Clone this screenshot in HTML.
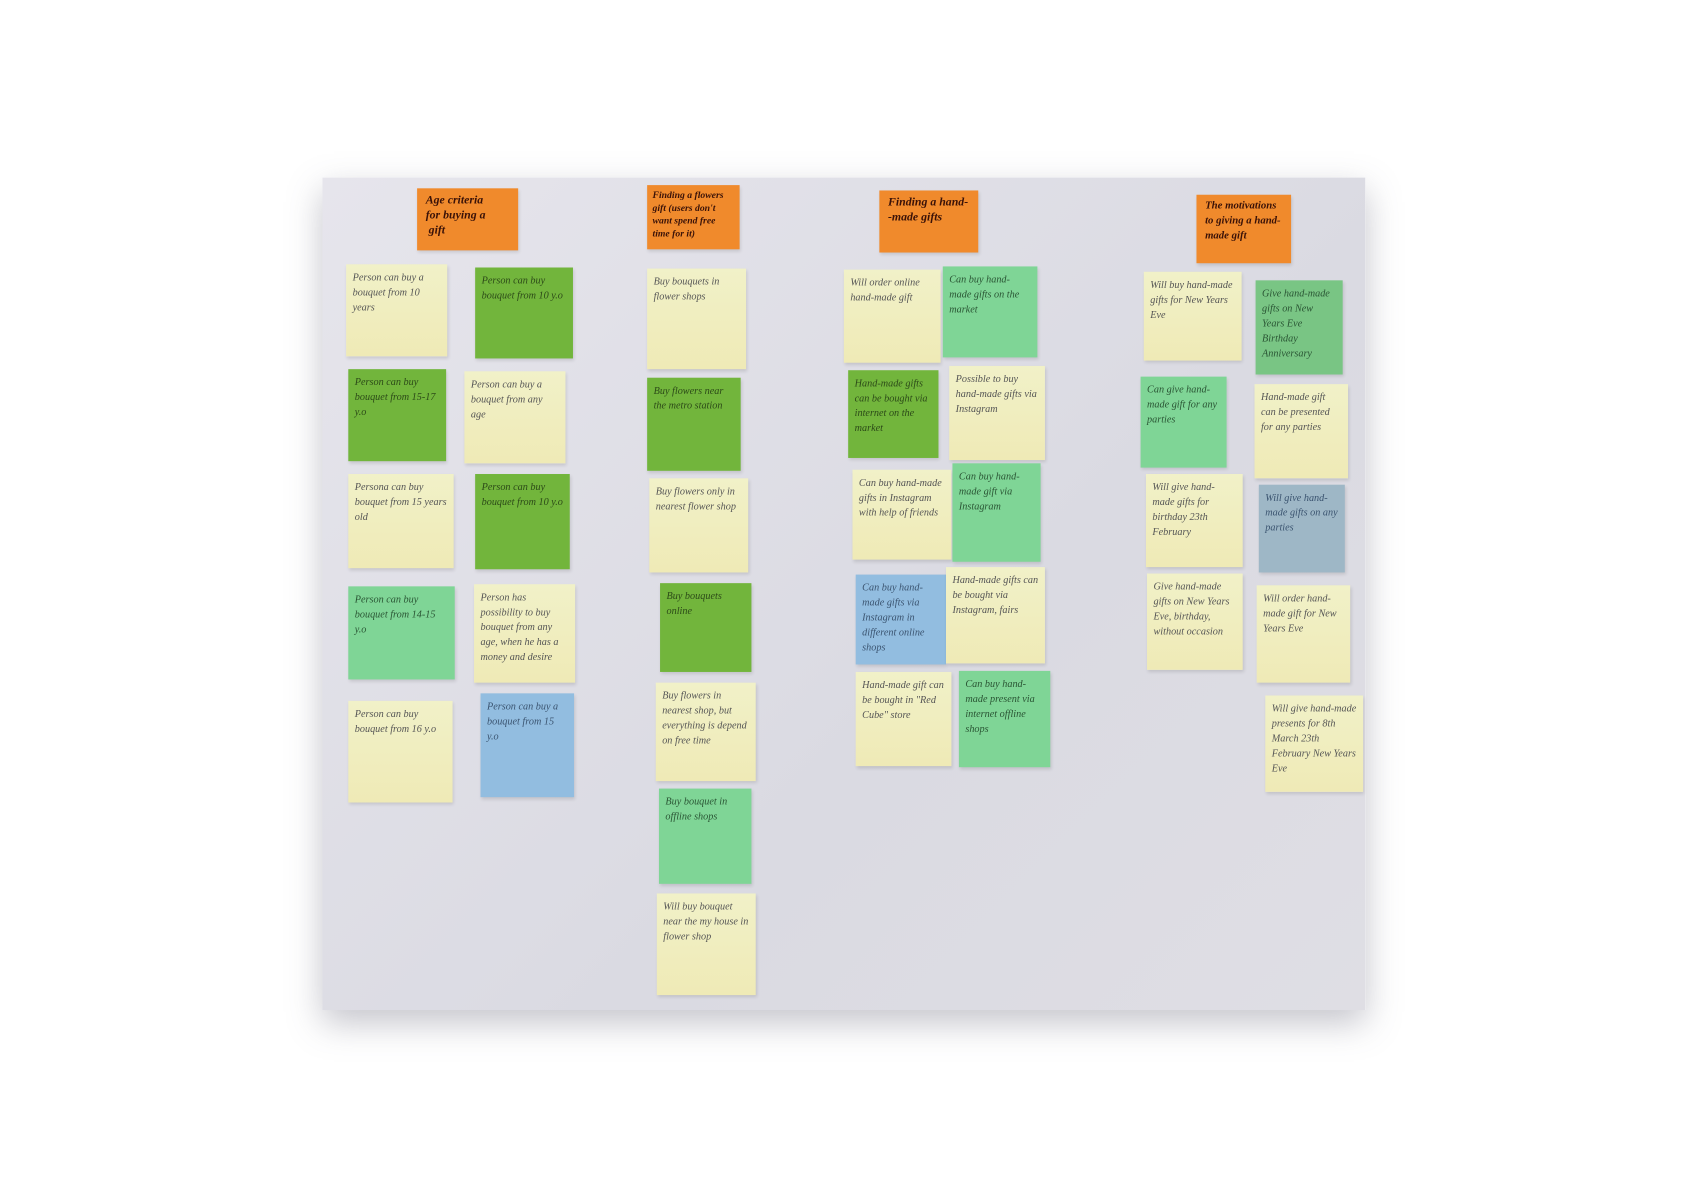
<!DOCTYPE html>
<html><head><meta charset="utf-8"><style>
html,body{margin:0;padding:0;background:#fff;width:1684px;height:1190px;overflow:hidden}
#w{position:absolute;left:0;top:0;width:1567px;height:1112px;transform:scale(1.075,1.07);transform-origin:0 0}
#board{position:absolute;left:300px;top:166px;width:970px;height:778px;background:linear-gradient(135deg,#e6e5ec,#dadae2 60%,#dfdee4);box-shadow:0 12px 30px rgba(90,90,110,.35)}
.n{position:absolute;box-sizing:border-box;padding:6px 6px;font-family:"Liberation Serif",serif;font-style:italic;font-size:9.5px;line-height:14px;color:#555;box-shadow:1px 2px 3px rgba(0,0,0,.12)}
.y{background:linear-gradient(180deg,#f1f1c8,#efeab6)}
.g{background:#72b53c;color:#2c4a18}
.m{background:#7fd596;color:#2a5534}
.b{background:#92bde0;color:#3b5470}
.s{background:#9eb7c6;color:#3b5470}
.o{background:#f08a2c;color:#3a1208;font-weight:bold;font-size:11px;line-height:14px;padding:4px 8px}
</style></head><body><div id="w">
<div id="board"></div>
<div class="n o" style="left:388px;top:176px;width:94px;height:58px">Age criteria<br>for buying a<br>&nbsp;gift</div>
<div class="n o" style="left:602px;top:173px;width:86px;height:60px;font-size:9px;line-height:12px;padding:3px 5px">Finding a flowers gift (users don't want spend free time for it)</div>
<div class="n o" style="left:818px;top:178px;width:92px;height:58px">Finding a hand-<br>-made gifts</div>
<div class="n o" style="left:1113px;top:182px;width:88px;height:64px;font-size:10px">The motivations to giving a hand-made gift</div>

<div class="n y" style="left:322px;top:247px;width:94px;height:86px">Person can buy a bouquet from 10 years</div>
<div class="n g" style="left:324px;top:345px;width:91px;height:86px">Person can buy bouquet from 15-17 y.o</div>
<div class="n y" style="left:324px;top:443px;width:98px;height:88px">Persona can buy bouquet from 15 years old</div>
<div class="n m" style="left:324px;top:548px;width:99px;height:87px">Person can buy bouquet from 14-15 y.o</div>
<div class="n y" style="left:324px;top:655px;width:97px;height:95px">Person can buy bouquet from 16 y.o</div>

<div class="n g" style="left:442px;top:250px;width:91px;height:85px">Person can buy bouquet from 10 y.o</div>
<div class="n y" style="left:432px;top:347px;width:94px;height:86px">Person can buy a bouquet from any age</div>
<div class="n g" style="left:442px;top:443px;width:88px;height:89px">Person can buy bouquet from 10 y.o</div>
<div class="n y" style="left:441px;top:546px;width:94px;height:92px">Person has possibility to buy bouquet from any age, when he has a money and desire</div>
<div class="n b" style="left:447px;top:648px;width:87px;height:97px">Person can buy a bouquet from 15 y.o</div>

<div class="n y" style="left:602px;top:251px;width:92px;height:94px">Buy bouquets in flower shops</div>
<div class="n g" style="left:602px;top:353px;width:87px;height:87px">Buy flowers near the metro station</div>
<div class="n y" style="left:604px;top:447px;width:92px;height:88px">Buy flowers only in nearest flower shop</div>
<div class="n g" style="left:614px;top:545px;width:85px;height:83px">Buy bouquets online</div>
<div class="n y" style="left:610px;top:638px;width:93px;height:92px">Buy flowers in nearest shop, but everything is depend on free time</div>
<div class="n m" style="left:613px;top:737px;width:86px;height:89px">Buy bouquet in offline shops</div>
<div class="n y" style="left:611px;top:835px;width:92px;height:95px">Will buy bouquet near the my house in flower shop</div>

<div class="n y" style="left:785px;top:252px;width:90px;height:87px">Will order online hand-made gift</div>
<div class="n g" style="left:789px;top:346px;width:84px;height:82px">Hand-made gifts can be bought via internet on the market</div>
<div class="n y" style="left:793px;top:439px;width:92px;height:84px">Can buy hand-made gifts in Instagram with help of friends</div>
<div class="n b" style="left:796px;top:537px;width:84px;height:84px">Can buy hand-made gifts via Instagram in different online shops</div>
<div class="n y" style="left:796px;top:628px;width:89px;height:88px">Hand-made gift can be bought in "Red Cube" store</div>

<div class="n m" style="left:877px;top:249px;width:88px;height:85px">Can buy hand-made gifts on the market</div>
<div class="n y" style="left:883px;top:342px;width:89px;height:88px">Possible to buy hand-made gifts via Instagram</div>
<div class="n m" style="left:886px;top:433px;width:82px;height:92px">Can buy hand-made gift via Instagram</div>
<div class="n y" style="left:880px;top:530px;width:92px;height:90px">Hand-made gifts can be bought via Instagram, fairs</div>
<div class="n m" style="left:892px;top:627px;width:85px;height:90px">Can buy hand-made present via internet offline shops</div>

<div class="n y" style="left:1064px;top:254px;width:91px;height:83px">Will buy hand-made gifts for New Years Eve</div>
<div class="n m" style="left:1061px;top:352px;width:80px;height:85px">Can give hand-made gift for any parties</div>
<div class="n y" style="left:1066px;top:443px;width:90px;height:87px">Will give hand-made gifts for birthday 23th February</div>
<div class="n y" style="left:1067px;top:536px;width:89px;height:90px">Give hand-made gifts on New Years Eve, birthday, without occasion</div>

<div class="n m" style="left:1168px;top:262px;width:81px;height:88px;background:#79c584">Give hand-made gifts on New Years Eve Birthday Anniversary</div>
<div class="n y" style="left:1167px;top:359px;width:87px;height:88px">Hand-made gift can be presented for any parties</div>
<div class="n s" style="left:1171px;top:453px;width:80px;height:82px">Will give hand-made gifts on any parties</div>
<div class="n y" style="left:1169px;top:547px;width:87px;height:91px">Will order hand-made gift for New Years Eve</div>
<div class="n y" style="left:1177px;top:650px;width:91px;height:90px">Will give hand-made presents for 8th March 23th February New Years Eve</div>
</div></body></html>
